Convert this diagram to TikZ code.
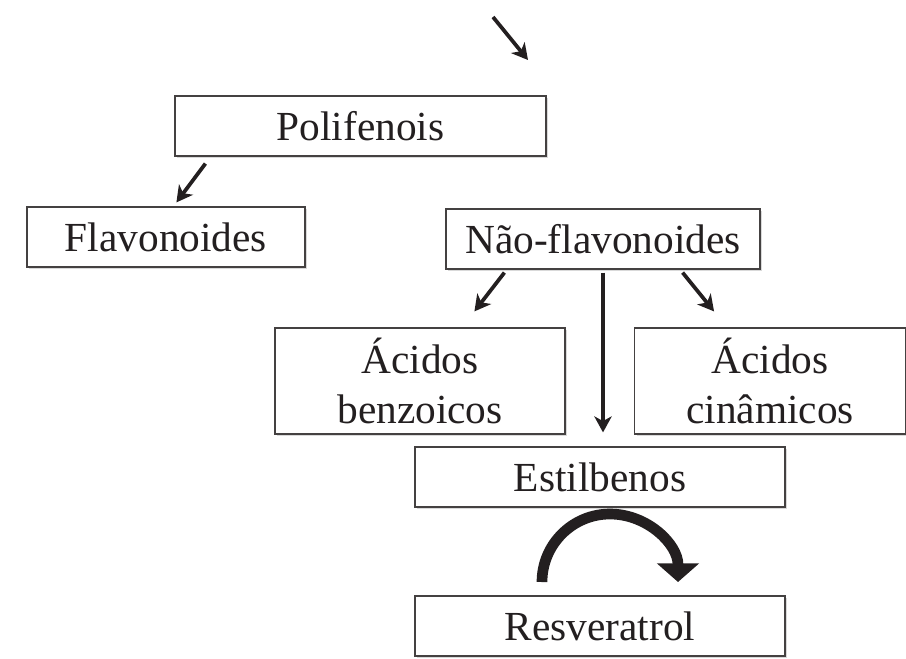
\documentclass[tikz,border=0pt]{standalone}
\usepackage{fontspec}
\setmainfont{Liberation Serif}
\usetikzlibrary{arrows.meta, shadows, calc}
\definecolor{ink}{HTML}{231F20}
\begin{document}
\begin{tikzpicture}[x=0.75pt, y=-0.75pt,
  box/.style={draw=ink!85, line width=0.9pt, fill=white, inner sep=0pt, align=center,
    text=ink, font=\fontsize{31}{37.5}\selectfont,
    drop shadow={shadow xshift=1.5pt, shadow yshift=-1.5pt, opacity=0.3}},
  arr/.style={draw=ink, line width=2.8pt, -{Stealth[length=12pt, width=13pt, inset=3.5pt]}},
  bigarr/.style={draw=ink, line width=8pt, -{Triangle[length=14pt, width=31pt]}}]
  \useasboundingbox (0,0) rectangle (906,658);

  % Boxes (pixel positions of the source layout)
  \node[box, minimum width=278.25pt, minimum height=45pt] (poli)  at (360.5,126) {Polifenois};
  \node[box, minimum width=208.5pt,  minimum height=45pt] (flav)  at (166,237)   {Flavonoides};
  \node[box, minimum width=235.5pt,  minimum height=45pt] (nafl)  at (603,239)   {Não-flavonoides};
  \node[box, minimum width=217.5pt,  minimum height=79.5pt] (benz) at (420,381)  {Ácidos\\benzoicos};
  \node[box, minimum width=203pt,    minimum height=79.5pt] (cina) at (770,381)  {Ácidos\\cinâmicos};
  \node[box, minimum width=277.5pt,  minimum height=45pt] (estil) at (600,477)   {Estilbenos};
  \node[box, minimum width=277.5pt,  minimum height=45pt] (resv)  at (600,626)   {Resveratrol};

  % Loose arrow at the top
  \coordinate (topA) at (493,17);
  \coordinate (topB) at (528,60);
  \draw[arr] (topA) -- (topB);

  % Polifenois -> Flavonoides
  \draw[arr] ($(poli.south west)+(31,7)$) -- ($(flav.north west)+(150,-4)$);

  % Nao-flavonoides -> the three classes
  \draw[arr] ($(nafl.south west)+(59,3)$) -- ($(benz.north west)+(200,-16)$);
  \draw[arr] ($(nafl.south east)+(-78,3)$) -- ($(cina.north west)+(80,-16)$);
  \draw[arr] ($(nafl.south)+(0,3)$) -- ($(estil.north)+(3,-14)$);

  % Estilbenos -> Resveratrol (thick curved arrow)
  \coordinate (turn) at (542,582);
  \draw[bigarr] (turn) arc[start angle=180, end angle=0, radius=51pt];
\end{tikzpicture}
\end{document}
